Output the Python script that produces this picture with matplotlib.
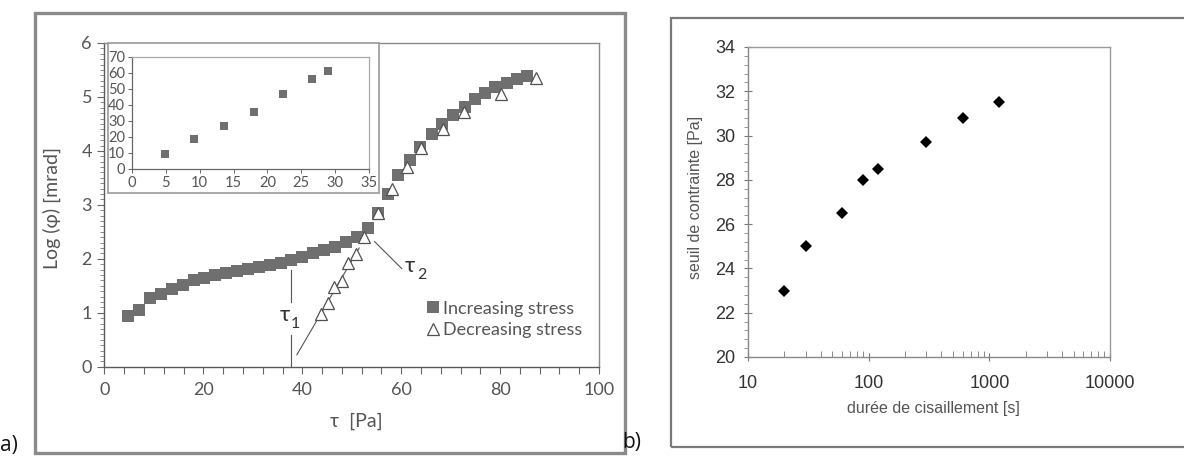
import matplotlib
matplotlib.use("Agg")
import matplotlib.pyplot as plt
from matplotlib.patches import Rectangle
from matplotlib.ticker import MultipleLocator, LogLocator, NullFormatter

# ---------------- data ----------------
# panel a: increasing stress (squares)
inc_x = [4.8, 7.0, 9.2, 11.4, 13.6, 15.8, 18.0, 20.2, 22.4, 24.6, 26.8, 29.0,
         31.2, 33.4, 35.6, 37.8, 40.0, 42.2, 44.4, 46.6, 48.8, 51.0, 53.2,
         55.4, 57.4, 59.4, 61.8, 63.8, 66.2, 68.2, 70.5, 72.9, 74.9, 76.9,
         79.0, 81.3, 83.4, 85.5]
inc_y = [0.94, 1.05, 1.27, 1.34, 1.44, 1.52, 1.60, 1.65, 1.70, 1.74, 1.77, 1.81,
         1.85, 1.89, 1.93, 1.98, 2.04, 2.10, 2.16, 2.22, 2.32, 2.41, 2.58,
         2.84, 3.21, 3.55, 3.84, 4.07, 4.31, 4.50, 4.67, 4.82, 4.96, 5.08,
         5.18, 5.25, 5.33, 5.39]
# panel a: decreasing stress (triangles)
dec_x = [87.2, 80.1, 72.7, 68.4, 64.0, 61.1, 58.2, 55.3, 52.4, 50.9, 49.3,
         48.0, 46.5, 45.1, 43.7]
dec_y = [5.35, 5.05, 4.73, 4.40, 4.06, 3.70, 3.30, 2.84, 2.41, 2.09, 1.92,
         1.59, 1.47, 1.18, 0.97]
# panel a inset
inset_x = [4.8, 9.2, 13.6, 18.0, 22.3, 26.6, 28.9]
inset_y = [9.5, 19.0, 27.0, 35.5, 47.0, 56.0, 61.5]
# annotations (tau1, tau2)
tau1_x = 37.8
fit_x = [38.9, 51.5]
fit_y = [0.22, 2.20]
tau2_line_x = [54.6, 60.1]
tau2_line_y = [2.32, 1.82]

# panel b
b_x = [20, 30, 60, 90, 120, 300, 600, 1200]
b_y = [23.0, 25.0, 26.5, 28.0, 28.5, 29.7, 30.8, 31.5]
b_xticks = [10, 100, 1000, 10000]
b_xticklabels = ["10", "100", "1000", "10000"]

a_xticks = [0, 20, 40, 60, 80, 100]
a_yticks = [0, 1, 2, 3, 4, 5, 6]
inset_xticks = [0, 5, 10, 15, 20, 25, 30, 35]
inset_yticks = [0, 10, 20, 30, 40, 50, 60, 70]
b_yticks = [20, 22, 24, 26, 28, 30, 32, 34]

# ---------------- styles ----------------
AFONT = ["Lato", "Noto Sans", "DejaVu Sans"]
BFONT = ["Liberation Sans", "DejaVu Sans"]
TXT = "#555555"
SQ = "#6f6f6f"

W, H = 1184, 457
fig = plt.figure(figsize=(W / 100, H / 100), dpi=100)


def fx(px):
    return px / W


def fy(py):
    return (H - py) / H


# outer frames
fig.patches.append(Rectangle((fx(35), fy(453)), fx(625) - fx(35), fy(13) - fy(453),
                             transform=fig.transFigure, fill=False,
                             edgecolor="#8a8a8a", lw=2.4))
fig.patches.append(Rectangle((fx(671), fy(447)), fx(1200) - fx(671), fy(18) - fy(447),
                             transform=fig.transFigure, fill=False,
                             edgecolor="#7a7a7a", lw=1.6))
fig.text(0.0, fy(451), "a)", fontsize=15, family=["Open Sans", "DejaVu Sans"],
         color="#111111", va="baseline", ha="left")
fig.text(fx(622), fy(448), "b)", fontsize=15, family=["Open Sans", "DejaVu Sans"],
         color="#111111", va="baseline", ha="left")

# ---------------- panel a ----------------
ax = fig.add_axes([fx(104.5), fy(366.7), fx(599) - fx(104.5), fy(43) - fy(366.7)])
ax.plot(inc_x, inc_y, ls="none", marker="s", ms=8.4, mfc=SQ, mec=SQ, mew=0,
        label="Increasing stress", zorder=3)
ax.plot(dec_x, dec_y, ls="none", marker="^", ms=8.5, mfc="white", mec="#505050",
        mew=0.9, label="Decreasing stress", zorder=4)
ax.set_xlim(0, 100)
ax.set_ylim(0, 6)
ax.set_xticks(a_xticks)
ax.set_yticks(a_yticks)
ax.xaxis.set_minor_locator(MultipleLocator(4))
ax.yaxis.set_minor_locator(MultipleLocator(0.1))
ax.tick_params(axis="both", which="major", direction="out", length=5, width=0.8,
               color="#666666", labelcolor=TXT, labelsize=13)
ax.tick_params(axis="x", which="minor", direction="out", length=5, width=0.8, color="#666666")
ax.tick_params(axis="y", which="minor", direction="out", length=3, width=0.6, color="#777777")
ax.tick_params(axis="x", which="major", pad=6)
ax.tick_params(axis="y", which="major", pad=4)
for lab in ax.get_xticklabels() + ax.get_yticklabels():
    lab.set_family(AFONT)
for side in ["top", "right"]:
    ax.spines[side].set_color("#8a8a8a")
    ax.spines[side].set_linewidth(1.0)
for side in ["bottom", "left"]:
    ax.spines[side].set_color("#5a5a5a")
    ax.spines[side].set_linewidth(1.0)
ax.set_xlabel("τ  [Pa]", fontsize=14, family=AFONT, color=TXT)
ax.xaxis.set_label_coords(0.51, -0.17)
ax.xaxis.label.set_va("center")
ax.set_ylabel("Log (φ) [mrad]", fontsize=14, family=AFONT, color=TXT)
ax.yaxis.set_label_coords(-0.106, 0.49)
ax.yaxis.label.set_va("center")

# annotation lines
ax.plot([tau1_x, tau1_x], [1.79, 1.20], color="#555555", lw=0.8, zorder=2)
ax.plot([tau1_x, tau1_x], [0.59, 0.0], color="#555555", lw=0.8, zorder=2)
ax.plot(fit_x, fit_y, color="#555555", lw=0.8, zorder=2)
ax.plot(tau2_line_x, tau2_line_y, color="#555555", lw=0.8, zorder=2)
ax.text(tau1_x - 0.3, 0.95, "τ", fontsize=16, family=AFONT, color="#333333",
        ha="right", va="center")
ax.text(tau1_x - 0.2, 0.80, "1", fontsize=11.5, family=AFONT, color="#333333",
        ha="left", va="center")
ax.text(60.8, 1.86, "τ", fontsize=16, family=AFONT, color="#333333",
        ha="left", va="center")
ax.text(63.2, 1.70, "2", fontsize=11.5, family=AFONT, color="#333333",
        ha="left", va="center")

leg = ax.legend(loc="lower left", bbox_to_anchor=(0.632, 0.055), frameon=False,
                prop={"family": AFONT, "size": 13}, handlelength=0.6,
                handletextpad=0.25, borderpad=0.1, labelspacing=0.3)
for t in leg.get_texts():
    t.set_color(TXT)

# inset outer frame
fig.patches.append(Rectangle((fx(108), fy(193)), fx(379) - fx(108), fy(43) - fy(193),
                             transform=fig.transFigure, fill=True, facecolor="white",
                             edgecolor="#9a9a9a", lw=1.2, zorder=5))

axi = fig.add_axes([fx(132), fy(169), fx(369) - fx(132), fy(57) - fy(169)], zorder=6)
axi.plot(inset_x, inset_y, ls="none", marker="s", ms=5.5, mfc=SQ, mec=SQ, mew=0)
axi.set_xlim(0, 35)
axi.set_ylim(0, 70)
axi.set_xticks(inset_xticks)
axi.set_yticks(inset_yticks)
axi.tick_params(axis="both", which="major", direction="out", length=3, width=0.7,
                color="#666666", labelcolor=TXT, labelsize=10.5, pad=2)
for lab in axi.get_xticklabels() + axi.get_yticklabels():
    lab.set_family(AFONT)
for side in ["top", "right"]:
    axi.spines[side].set_color("#aaaaaa")
    axi.spines[side].set_linewidth(0.9)
for side in ["bottom", "left"]:
    axi.spines[side].set_color("#666666")
    axi.spines[side].set_linewidth(0.9)

# ---------------- panel b ----------------
bx = fig.add_axes([fx(748), fy(357), fx(1110) - fx(748), fy(47) - fy(357)])
bx.plot(b_x, b_y, ls="none", marker="D", ms=6.5, mfc="black", mec="black", mew=0)
bx.set_xscale("log")
bx.set_xlim(10, 10000)
bx.set_ylim(20, 34)
bx.set_xticks(b_xticks)
bx.set_xticklabels(b_xticklabels)
bx.xaxis.set_minor_locator(LogLocator(base=10, subs=range(2, 10), numticks=20))
bx.xaxis.set_minor_formatter(NullFormatter())
bx.set_yticks(b_yticks)
bx.yaxis.set_minor_locator(MultipleLocator(0.4))
bx.tick_params(axis="both", which="major", direction="inout", length=6, width=0.8,
               color="#777777", labelcolor="#333333", labelsize=13)
bx.tick_params(axis="x", which="minor", direction="in", length=4, width=0.7, color="#888888")
bx.tick_params(axis="y", which="minor", direction="out", length=3, width=0.6, color="#888888")
bx.tick_params(axis="x", which="major", pad=10)
bx.tick_params(axis="y", which="major", pad=6)
for lab in bx.get_xticklabels() + bx.get_yticklabels():
    lab.set_family(BFONT)
for side in bx.spines:
    bx.spines[side].set_color("#9a9a9a")
    bx.spines[side].set_linewidth(1.0)
bx.spines["left"].set_color("#888888")
bx.spines["bottom"].set_color("#888888")
bx.set_xlabel("durée de cisaillement [s]", fontsize=11.5, family=BFONT, color=TXT)
bx.xaxis.set_label_coords(0.511, -0.165)
bx.xaxis.label.set_va("center")
bx.set_ylabel("seuil de contrainte [Pa]", fontsize=11.5, family=BFONT, color=TXT)
bx.yaxis.set_label_coords(-0.144, 0.515)
bx.yaxis.label.set_va("center")

fig.savefig("out.png", dpi=100)
